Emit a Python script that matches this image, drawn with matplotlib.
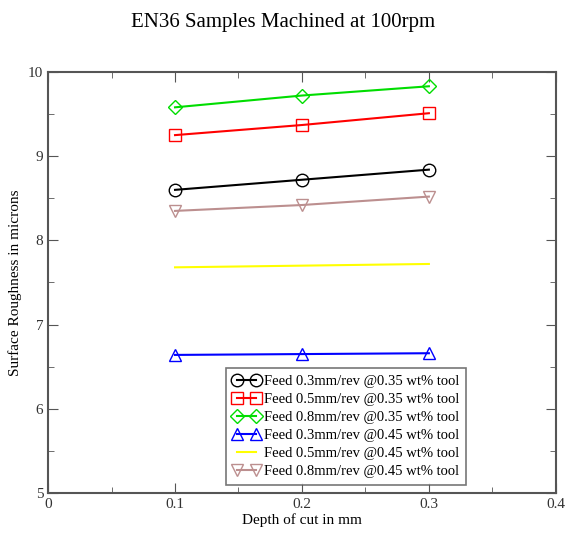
import numpy as np
import matplotlib
matplotlib.use("Agg")
import matplotlib.pyplot as plt
from matplotlib.ticker import MultipleLocator

plt.rcParams['font.family'] = ['Liberation Serif', 'DejaVu Serif']

## data
depth = [0.1, 0.2, 0.3]
labels = [
    "Feed 0.3mm/rev @0.35 wt% tool",
    "Feed 0.5mm/rev @0.35 wt% tool",
    "Feed 0.8mm/rev @0.35 wt% tool",
    "Feed 0.3mm/rev @0.45 wt% tool",
    "Feed 0.5mm/rev @0.45 wt% tool",
    "Feed 0.8mm/rev @0.45 wt% tool",
]
f03_035 = [8.60, 8.72, 8.84]
f05_035 = [9.25, 9.37, 9.51]
f08_035 = [9.58, 9.72, 9.83]
f03_045 = [6.64, 6.65, 6.66]
f05_045 = [7.68, 7.70, 7.72]
f08_045 = [8.35, 8.42, 8.52]

series = [f03_035, f05_035, f08_035, f03_045, f05_045, f08_045]
colors = ["black", "red", "#00dd00", "blue", "yellow", "#bc8f8f"]
markers = ["o", "s", "D", "^", "", "v"]
msizes = [9, 8, 7, 8, 0, 8]

fig = plt.figure(figsize=(5.66, 5.33), dpi=100)
ax = fig.add_axes([0.085, 0.075, 0.897, 0.79])

for y, c, m, ms, lab in zip(series, colors, markers, msizes, labels):
    ax.plot(depth, y, color=c, lw=1.5, marker=m if m else None, ms=ms,
            mfc="none", mec=c, mew=1.0, label=lab)

ax.set_xlim(0, 0.4)
ax.set_ylim(5, 10)
ax.xaxis.set_major_locator(MultipleLocator(0.1))
ax.xaxis.set_minor_locator(MultipleLocator(0.05))
ax.yaxis.set_major_locator(MultipleLocator(1))
ax.yaxis.set_minor_locator(MultipleLocator(0.5))
ax.set_xticks([0, 0.1, 0.2, 0.3, 0.4], ["0", "0.1", "0.2", "0.3", "0.4"])
ax.tick_params(which="both", direction="in", top=True, right=True,
               labelsize=11, color="#555555", labelcolor="#333333")
ax.tick_params(which="major", length=7)
ax.tick_params(which="minor", length=4)
for s in ax.spines.values():
    s.set_color("#555555")
    s.set_linewidth(1.5)

ax.set_xlabel("Depth of cut in mm", fontsize=11, labelpad=2)
ax.set_ylabel("Surface Roughness in microns", fontsize=11)
fig.text(0.5, 0.958, "EN36 Samples Machined at 100rpm", ha="center",
         va="center", fontsize=15)

leg = ax.legend(loc="lower left", bbox_to_anchor=(0.35, 0.02), fontsize=10.5,
                frameon=True, fancybox=False, edgecolor="#555555",
                borderpad=0.45, labelspacing=0.33, handlelength=1.9,
                handletextpad=0.3, numpoints=2, borderaxespad=0)
leg.get_frame().set_linewidth(1.2)

fig.savefig("out.png", dpi=100)
